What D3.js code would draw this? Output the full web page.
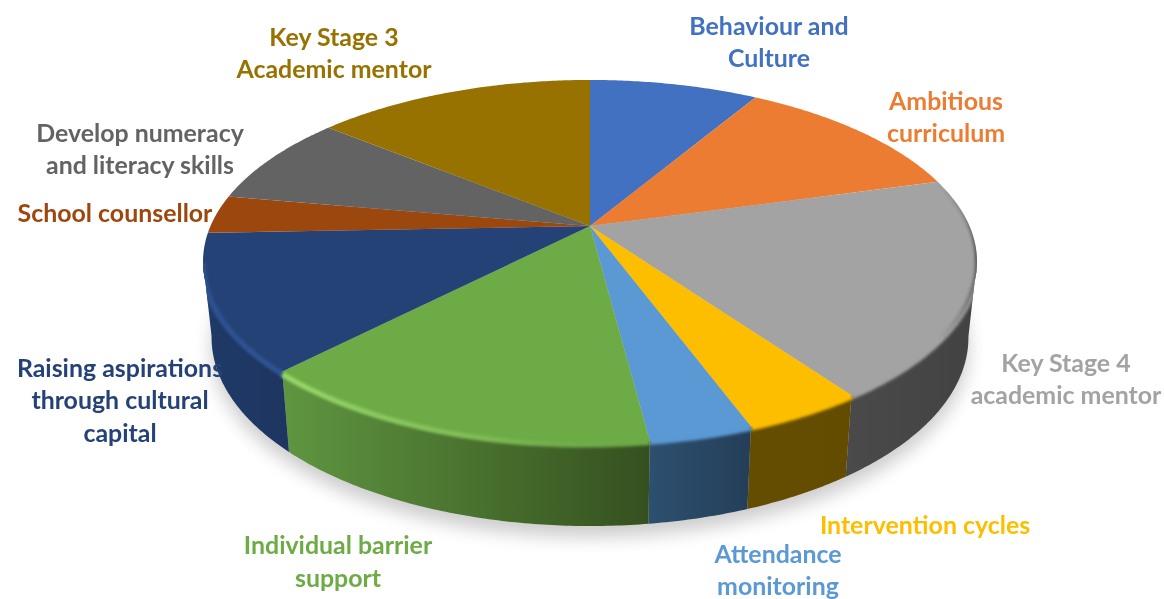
<!DOCTYPE html>
<html>
<head>
<meta charset="utf-8">
<script src="https://cdn.jsdelivr.net/npm/d3@7"></script>
<style>
    html, body { margin: 0; padding: 0; background: #fff; }
    svg { display: block; filter: blur(0.45px); }
    .pie-label { font-family: Lato, sans-serif; font-weight: 700; font-size: 24.9px; text-anchor: middle; }
</style>
</head>
<body>
<div id="chart"></div>
<script>
const categories = [
    ['Behaviour and', 'Culture'],
    ['Ambitious', 'curriculum'],
    ['Key Stage 4', 'academic mentor'],
    ['Intervention cycles'],
    ['Attendance', 'monitoring'],
    ['Individual barrier', 'support'],
    ['Raising aspirations', 'through cultural', 'capital'],
    ['School counsellor'],
    ['Develop numeracy', 'and literacy skills'],
    ['Key Stage 3', 'Academic mentor']
];
const shares = [8.5, 12.2, 19.45, 4.2, 3.6, 14.3, 12.1, 3.4, 8.1, 14.1];

const faceColors = ['#4271c2', '#eb7c31', '#a3a3a3', '#fdbe00', '#5a99d3', '#6dab46', '#254277', '#9c470e', '#636363', '#977200'];
const wallColors = [
    ['#2f4f88', '#2f4f88'], ['#a55620', '#a55620'], ['#4a4a4a', '#424242'], ['#654d00', '#634c00'], ['#2d5070', '#243e58'],
    ['#5f9640', '#35501f'], ['#1f3a68', '#1e3560'], ['#6e320a', '#6e320a'], ['#444444', '#444444'], ['#6a5000', '#6a5000']
];
const labelAnchors = [[769, 34.6], [946, 109.6], [1066, 371.6], [925, 533.6], [778, 562.6], [338, 553.8], [120, 376.6], [115, 221.6], [140, 141.6], [334, 45.6]];
const lineGap = 32.7;

const width = 1164, height = 599;
const centerX = 590, centerY = 226;
const spreadX = 379.5, spreadY = 174.6, tilt = 0.1955;
const wallDepth = 74, wallFlare = 9, wallShrink = 0.978;

// disc to screen, with the perspective that pushes the hub above the ellipse centre
function projectTop(a) {
    const u = Math.sin(a), v = -Math.cos(a), w = 1 - tilt * v;
    return [centerX + spreadX * u / w, centerY + spreadY * v / w];
}
function projectBottom(a) {
    const p = projectTop(a), v = -Math.cos(a);
    return [centerX + (p[0] - centerX) * wallShrink, p[1] + wallDepth + wallFlare * v];
}
function sampleAngles(a0, a1) {
    const n = Math.max(2, Math.ceil((a1 - a0) / 0.01));
    return d3.range(n + 1).map(i => a0 + (a1 - a0) * i / n);
}

const line = d3.line();
const deg = Math.PI / 180;
const wallFrom = 101 * deg, wallTo = 259 * deg;

const slices = d3.pie().sort(null).value(d => d)(shares);

const svg = d3.select('#chart').append('svg')
    .attr('width', width)
    .attr('height', height);

const defs = svg.append('defs');
[['blurShadow', 9], ['blurGlow', 1.8]].forEach(([id, dev]) => {
    defs.append('filter')
        .attr('id', id)
        .attr('filterUnits', 'userSpaceOnUse')
        .attr('x', 0).attr('y', 0).attr('width', width).attr('height', height)
        .append('feGaussianBlur').attr('stdDeviation', dev);
});

const fullTop = sampleAngles(0, 2 * Math.PI).map(projectTop);
const fullWall = sampleAngles(wallFrom, wallTo).map(projectTop)
    .concat(sampleAngles(wallFrom, wallTo).reverse().map(projectBottom));

const clip = defs.append('clipPath').attr('id', 'pieClip');
clip.append('path').attr('d', line(fullTop) + 'Z');
clip.append('path').attr('d', line(fullWall) + 'Z');

function addGradient(id, ends, stops) {
    const g = defs.append('linearGradient')
        .attr('id', id)
        .attr('gradientUnits', 'userSpaceOnUse')
        .attr('x1', ends[0]).attr('y1', ends[1]).attr('x2', ends[2]).attr('y2', ends[3]);
    stops.forEach(([o, c, a]) => g.append('stop').attr('offset', o).attr('stop-color', c).attr('stop-opacity', a));
}

// soft shadow under the disc
svg.append('path')
    .attr('d', line(sampleAngles(0, 2 * Math.PI).map(projectBottom).map(p => [p[0], p[1] + 11])) + 'Z')
    .attr('fill', '#000')
    .attr('opacity', 0.2)
    .attr('filter', 'url(#blurShadow)');

// walls, only the stretch of each slice that faces the viewer
const walls = svg.append('g');
const glow = svg.append('g').attr('clip-path', 'url(#pieClip)');
slices.forEach((d, i) => {
    const a0 = Math.max(d.startAngle, wallFrom), a1 = Math.min(d.endAngle, wallTo);
    if (a1 <= a0) return;
    const angles = sampleAngles(a0, a1);
    const poly = angles.map(projectTop).concat(angles.slice().reverse().map(projectBottom));
    const xs = poly.map(p => p[0]);
    addGradient('wall' + i, [d3.min(xs), 0, d3.max(xs), 0], [[0, wallColors[i][0], 1], [1, wallColors[i][1], 1]]);
    walls.append('path')
        .attr('d', line(poly) + 'Z')
        .attr('fill', `url(#wall${i})`);
    glow.append('path')
        .attr('d', line(angles.map(projectTop)))
        .attr('fill', 'none')
        .attr('stroke', faceColors[i])
        .attr('stroke-width', 8)
        .attr('filter', 'url(#blurGlow)');
});

// top faces
svg.append('g').selectAll('path')
    .data(slices)
    .enter()
    .append('path')
    .attr('d', d => line([[centerX, centerY]].concat(sampleAngles(d.startAngle, d.endAngle).map(projectTop))) + 'Z')
    .attr('fill', (d, i) => faceColors[i]);

// bevel light and dark along the rim
const bevel = svg.append('g').attr('clip-path', 'url(#pieClip)');
function addBevel(a0, a1, stroke, strokeWidth, shift) {
    bevel.append('path')
        .attr('d', line(sampleAngles(a0, a1).map(projectTop).map(p => [p[0], p[1] + shift])))
        .attr('fill', 'none')
        .attr('stroke', stroke)
        .attr('stroke-width', strokeWidth)
        .attr('filter', 'url(#blurGlow)');
}
addGradient('greenEdge', [285, 0, 650, 0], [[0, '#9bdc6e', 0.95], [0.55, '#8ecb62', 0.6], [1, '#70ad47', 0]]);
addGradient('navyEdge', [205, 0, 285, 0], [[0, '#2f5597', 0.8], [1, '#33599e', 0.8]]);
addGradient('greyEdge', [0, 183, 0, 345], [[0, '#3c3c3c', 0], [0.45, '#3c3c3c', 0.8], [1, '#3c3c3c', 0]]);
addBevel(slices[5].startAngle, slices[5].endAngle, 'url(#greenEdge)', 5, 2.5);
addBevel(slices[6].startAngle, wallTo, 'url(#navyEdge)', 5, 2.5);
addBevel(slices[2].startAngle, slices[2].startAngle + 50 * deg, 'url(#greyEdge)', 4, 0);

// labels
const labels = svg.append('g');
categories.forEach((lines, i) => {
    const text = labels.append('text')
        .attr('class', 'pie-label')
        .attr('fill', faceColors[i]);
    lines.forEach((t, j) => {
        text.append('tspan')
            .attr('x', labelAnchors[i][0])
            .attr('y', labelAnchors[i][1] + j * lineGap)
            .text(t);
    });
});
</script>
</body>
</html>
